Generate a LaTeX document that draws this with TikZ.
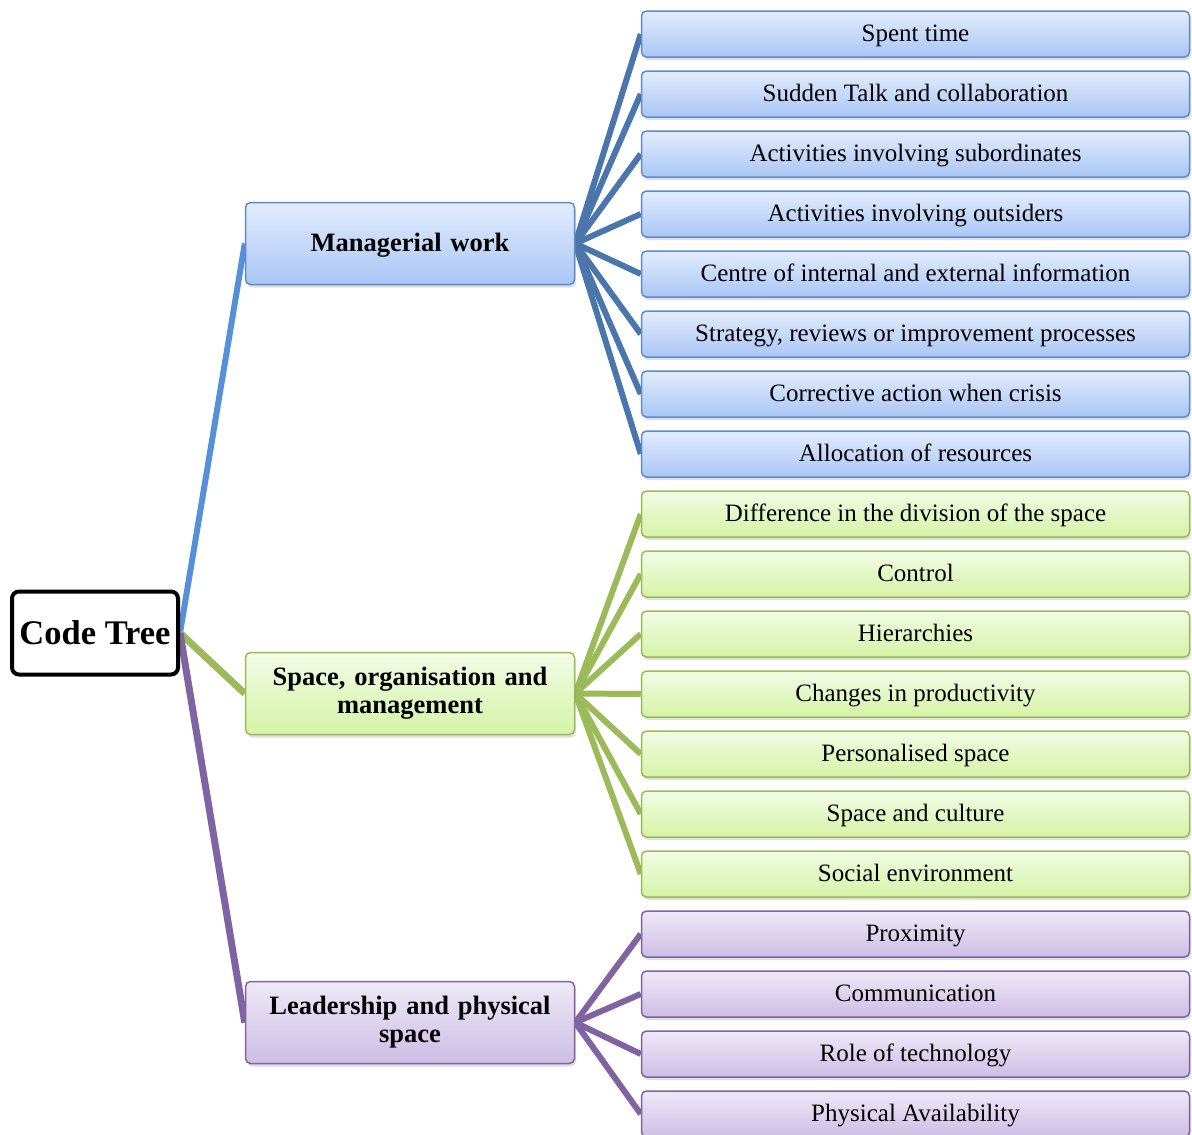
\documentclass[tikz,border=0pt]{standalone}
\usepackage{fontspec}
\setmainfont{Liberation Serif}
\usetikzlibrary{shadows,backgrounds}

\definecolor{mwline}{HTML}{4A76AB}
\definecolor{mwroot}{HTML}{5590D8}
\definecolor{mwedge}{HTML}{5E8BCB}
\definecolor{mwtop}{HTML}{E3ECFD}
\definecolor{mwbot}{HTML}{A9C6F5}
\definecolor{spline}{HTML}{9BBB59}
\definecolor{sptop}{HTML}{F2FBE6}
\definecolor{spbot}{HTML}{D6F3A6}
\definecolor{ldline}{HTML}{8064A2}
\definecolor{ldtop}{HTML}{EEE9F7}
\definecolor{ldbot}{HTML}{CDBDE5}

\begin{document}
\begin{tikzpicture}[x=1pt, y=-1pt,
  box/.style={rounded corners=5pt, line width=1.5pt, inner sep=0pt,
    drop shadow={shadow xshift=1.5pt, shadow yshift=-3pt, opacity=0.25}},
  leaf/.style={box, minimum width=548pt, minimum height=46pt,
    text height=17pt, text depth=2pt, font=\fontsize{25}{28}\selectfont},
  topic/.style={box, minimum width=329pt, minimum height=82pt, text width=310pt,
    align=center, font=\fontsize{26.5}{28}\selectfont\bfseries},
  blue/.style={draw=mwedge, top color=mwtop, bottom color=mwbot},
  green/.style={draw=spline, top color=sptop, bottom color=spbot},
  purple/.style={draw=ldline, top color=ldtop, bottom color=ldbot},
  link/.style={line width=6pt}]
\useasboundingbox (0,0) rectangle (1192,1135);

% root
\node[draw, line width=4pt, rounded corners=7pt, fill=white, minimum width=166pt,
  minimum height=83pt, inner sep=0pt, font=\fontsize{34.5}{36}\selectfont\bfseries]
  (root) at (95,633) {Code Tree};

% topics
\node[topic, blue, text height=18pt, text depth=3pt] (work) at (410,243.5) {Managerial work};
\node[topic, green] (space) at (410,693.5) {Space, organisation and\\management};
\node[topic, purple] (lead) at (410,1022.5) {Leadership and physical\\space};

% managerial work
\node[leaf, blue] (w1) at (915.5,34) {Spent time};
\node[leaf, blue] (w2) at (915.5,94) {Sudden Talk and collaboration};
\node[leaf, blue] (w3) at (915.5,154) {Activities involving subordinates};
\node[leaf, blue] (w4) at (915.5,214) {Activities involving outsiders};
\node[leaf, blue] (w5) at (915.5,274) {Centre of internal and external information};
\node[leaf, blue] (w6) at (915.5,334) {Strategy, reviews or improvement processes};
\node[leaf, blue] (w7) at (915.5,394) {Corrective action when crisis};
\node[leaf, blue] (w8) at (915.5,454) {Allocation of resources};

% space, organisation and management
\node[leaf, green] (s1) at (915.5,514) {Difference in the division of the space};
\node[leaf, green] (s2) at (915.5,574) {Control};
\node[leaf, green] (s3) at (915.5,634) {Hierarchies};
\node[leaf, green] (s4) at (915.5,694) {Changes in productivity};
\node[leaf, green] (s5) at (915.5,754) {Personalised space};
\node[leaf, green] (s6) at (915.5,814) {Space and culture};
\node[leaf, green] (s7) at (915.5,874) {Social environment};

% leadership and physical space
\node[leaf, purple] (l1) at (915.5,934) {Proximity};
\node[leaf, purple] (l2) at (915.5,994) {Communication};
\node[leaf, purple] (l3) at (915.5,1054) {Role of technology};
\node[leaf, purple] (l4) at (915.5,1114) {Physical Availability};

\begin{scope}[on background layer]
\draw[link, mwroot] (root.east) -- (work.west);
\draw[link, spline, line width=7pt] (root.east) -- (space.west);
\draw[link, ldline, line width=7pt] (root.east) -- (lead.west);
\foreach \n in {w1,w2,w3,w4,w5,w6,w7,w8}
  \draw[link, mwline] (work.east) -- (\n.west);
\foreach \n in {s1,s2,s3,s4,s5,s6,s7}
  \draw[link, spline] (space.east) -- (\n.west);
\foreach \n in {l1,l2,l3,l4}
  \draw[link, ldline] (lead.east) -- (\n.west);
\end{scope}
\end{tikzpicture}
\end{document}
